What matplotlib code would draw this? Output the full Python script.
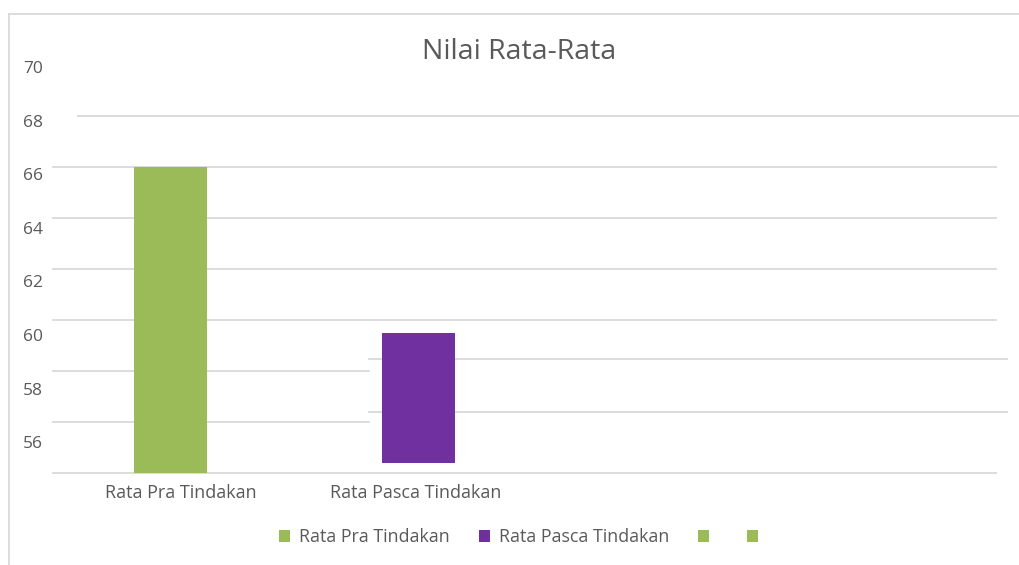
import matplotlib
matplotlib.use("Agg")
import matplotlib.pyplot as plt
from matplotlib.patches import Patch
from matplotlib.lines import Line2D

plt.rcParams['font.family'] = ['Open Sans', 'DejaVu Sans']

# ---- data ----
categories = ["Rata Pra Tindakan", "Rata Pasca Tindakan"]
values = [66.0, 59.5]
bases = [54.0, 54.4]
bar_colors = ["#9BBB59", "#7030A0"]
tick_values = [56, 58, 60, 62, 64, 66, 68, 70]
legend_labels = ["Rata Pra Tindakan", "Rata Pasca Tindakan", "", ""]
legend_colors = ["#9BBB59", "#7030A0", "#9BBB59", "#9BBB59"]
title = "Nilai Rata-Rata"

TEXT = "#595959"
GRID = "#D9D9D9"

W, H = 1019, 565
fig = plt.figure(figsize=(W / 100, H / 100), dpi=100)

# chart-area border (top and left)
fig.add_artist(Line2D([9 / W, 1.0], [1 - 14 / H, 1 - 14 / H], color=GRID, lw=1.3))
fig.add_artist(Line2D([9 / W, 9 / W], [0, 1 - 14 / H], color=GRID, lw=1.3))

ax_l, ax_r, ax_b = 53, 996, 473
ymin, ymax = 54, 70
px_per_unit = 25.5
ax_t = ax_b - (ymax - ymin) * px_per_unit
ax = fig.add_axes([ax_l / W, 1 - ax_b / H, (ax_r - ax_l) / W, (ax_b - ax_t) / H])
ax.set_ylim(ymin, ymax)
ax.set_xlim(-0.474, 3.329)

for s in ax.spines.values():
    s.set_visible(False)

# gridlines (segments as drawn in the reference)
grid_segments = [
    (68, 0.0265, 1.0244),
    (66, 0, 1), (64, 0, 1), (62, 0, 1), (60, 0, 1),
    (58, 0, 0.335), (56, 0, 0.335),
    (58.47, 0.335, 1.0117), (56.39, 0.335, 1.0117),
    (54, 0, 1),
]
for y, x0, x1 in grid_segments:
    ax.axhline(y, x0, x1, color=GRID, lw=1.3, zorder=0, clip_on=False)

x = list(range(len(categories)))
heights = [v - b for v, b in zip(values, bases)]
ax.bar(x, heights, bottom=bases, width=0.294, color=bar_colors, zorder=2)

# y tick labels (slightly stretched relative to the gridlines, as in the reference)
stretch = 26.8 / px_per_unit
top_pos = ymin + (ax_b - 67) / px_per_unit
ax.set_yticks([top_pos - (70 - v) * stretch for v in tick_values])
ax.set_yticklabels([str(v) for v in tick_values], color=TEXT, fontsize=12.5)
ax.tick_params(axis='y', length=0, pad=7)

label_shift = [0.042, -0.01]
ax.set_xticks([xi + s for xi, s in zip(x, label_shift)])
ax.set_xticklabels(categories, color=TEXT, fontsize=13)
ax.tick_params(axis='x', length=0, pad=8)

fig.text(519 / W, 1 - 52 / H, title, ha='center', va='center', fontsize=20.5, color=TEXT)

handles = [Patch(facecolor=c, edgecolor='none') for c in legend_colors]
fig.legend(handles, legend_labels, loc='center', bbox_to_anchor=(523 / W, 1 - 537 / H),
           ncol=4, frameon=False, fontsize=12.8, labelcolor=TEXT,
           handlelength=0.65, handleheight=0.65, handletextpad=0.5, columnspacing=1.6)

fig.savefig("out.png", dpi=100)
